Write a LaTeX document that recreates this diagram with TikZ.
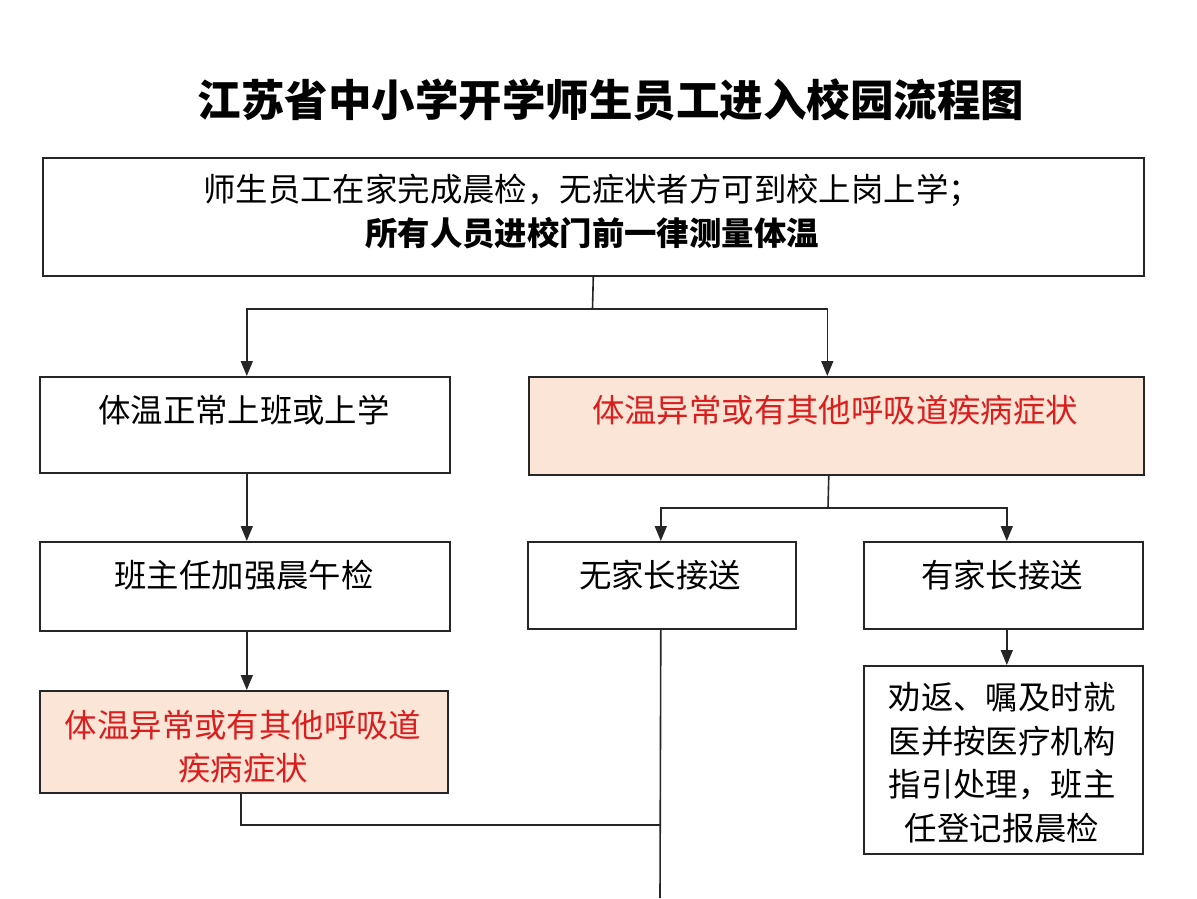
\documentclass[tikz,border=0pt]{standalone}
\usepackage{fontspec}
\setmainfont{Noto Sans CJK SC}
\usetikzlibrary{arrows.meta}
\definecolor{peach}{RGB}{251,229,214}
\definecolor{redtxt}{RGB}{218,30,30}
\begin{document}
\begin{tikzpicture}[x=1pt,y=-1pt,
 box/.style={draw=black!85, line width=1.6pt, rectangle, anchor=north west, inner sep=0pt},
 alert/.style={box, fill=peach},
 txt/.style={font=\fontsize{32.4}{43.5}\selectfont, align=center, inner sep=0pt},
 redt/.style={txt, text=redtxt},
 conn/.style={draw=black!85, line width=1.6pt},
 arr/.style={conn, -{Triangle[length=15pt,width=12pt]}}]
\useasboundingbox[fill=white] (0,0) rectangle (1197,898);
\node[font=\bfseries\fontsize{43.5}{50}\selectfont, inner sep=0pt] (title) at (611,100) {江苏省中小学开学师生员工进入校园流程图};
% boxes
\node[box, minimum width=1101pt, minimum height=118pt] (top) at (42,157) {};
\node[txt] (toptxt) at (592,211.5) {师生员工在家完成晨检，无症状者方可到校上岗上学；\\\textbf{所有人员进校门前一律测量体温}};
\node[box, minimum width=410pt, minimum height=96pt] (b1) at (39,376) {};
\node[txt] (b1t) at (244,410) {体温正常上班或上学};
\node[alert, minimum width=615pt, minimum height=98pt] (r1) at (528,376) {};
\node[redt] (r1t) at (835,410) {体温异常或有其他呼吸道疾病症状};
\node[box, minimum width=410pt, minimum height=89pt] (b2) at (39,541) {};
\node[txt] (b2t) at (244,575) {班主任加强晨午检};
\node[alert, minimum width=408pt, minimum height=102pt] (r2) at (39,690) {};
\node[redt] (r2t) at (243,746.5) {体温异常或有其他呼吸道\\疾病症状};
\node[box, minimum width=268pt, minimum height=87pt] (n1) at (527,541) {};
\node[txt] (n1t) at (660,575) {无家长接送};
\node[box, minimum width=279pt, minimum height=87pt] (y1) at (863,541) {};
\node[txt] (y1t) at (1002,575) {有家长接送};
\node[box, minimum width=279pt, minimum height=188pt] (y2) at (863,665) {};
\node[txt] (y2t) at (1002,762.5) {劝返、嘱及时就\\医并按医疗机构\\指引处理，班主\\任登记报晨检};
% connectors
\coordinate (j1) at (592.5,309);
\coordinate (j2) at (828,508);
\coordinate (j3) at (660,825);
\coordinate (bot) at (660,898);
\draw[conn] (top.south) -- (j1);
\draw[arr] (j1) -| ([xshift=2pt]b1.north);
\draw[arr] (j1) -| ([xshift=-9pt]r1.north);
\draw[conn] ([xshift=-7.5pt]r1.south) -- (j2);
\draw[arr] (j2) -| ([xshift=-1pt]n1.north);
\draw[arr] (j2) -| ([xshift=3.5pt]y1.north);
\draw[arr] ([xshift=2pt]b1.south) -- ([xshift=2pt]b2.north);
\draw[arr] ([xshift=2pt]b2.south) -- ([xshift=3pt]r2.north);
\draw[arr] ([xshift=3.5pt]y1.south) -- ([xshift=3.5pt]y2.north);
\draw[conn] ([xshift=-3pt]r2.south) |- (j3);
\draw[conn] ([xshift=-1pt]n1.south) -- (bot);
\end{tikzpicture}
\end{document}
